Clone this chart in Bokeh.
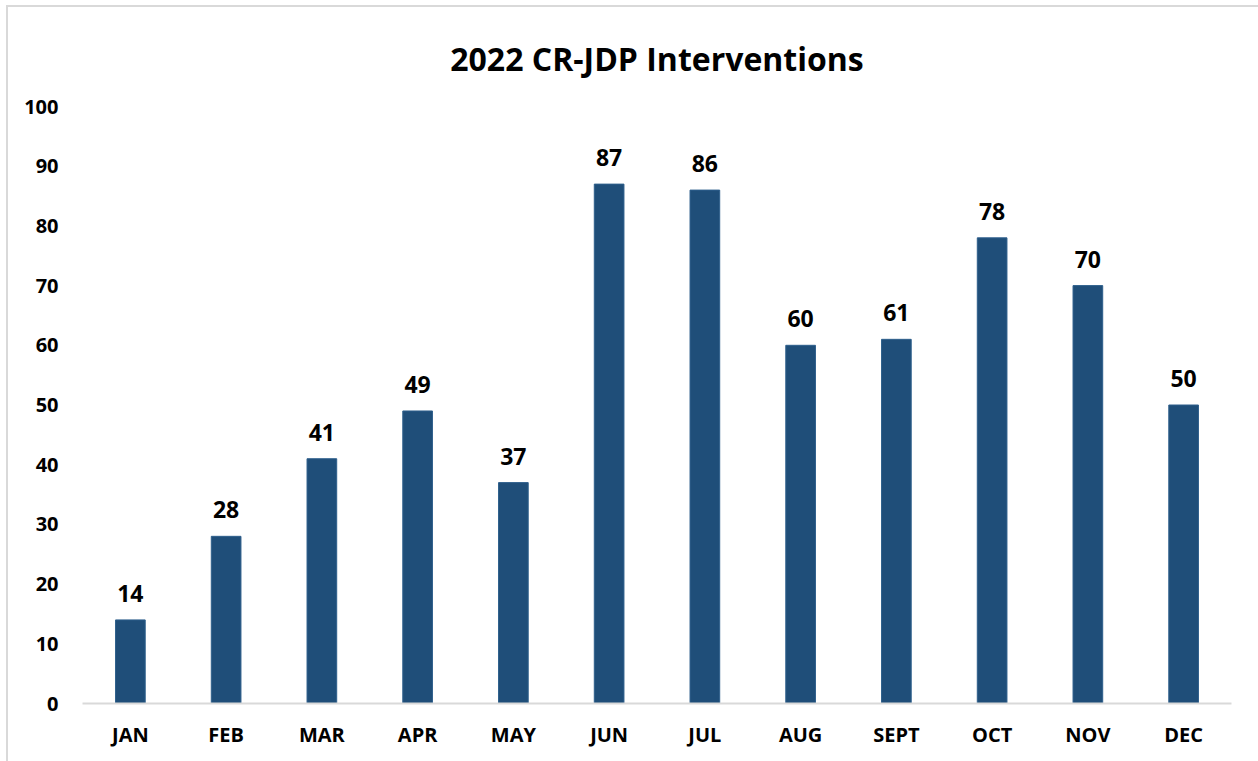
from bokeh.plotting import figure
from bokeh.models import ColumnDataSource, Range1d, FixedTicker, LabelSet
from bokeh.core.properties import value
from bokeh.embed import file_html
from bokeh.resources import INLINE

months = ["JAN", "FEB", "MAR", "APR", "MAY", "JUN", "JUL", "AUG", "SEPT", "OCT", "NOV", "DEC"]
interventions = [14, 28, 41, 49, 37, 87, 86, 60, 61, 78, 70, 50]
y_ticks = [0, 10, 20, 30, 40, 50, 60, 70, 80, 90, 100]

FONT = "Open Sans"
BAR = "#1F4E79"

src = ColumnDataSource(dict(m=months, v=interventions, lbl=[str(x) for x in interventions]))

p = figure(x_range=months, y_range=Range1d(0, 100), width=1256, height=759,
           output_backend="svg", toolbar_location=None,
           min_border_left=74, min_border_right=33, min_border_top=99, min_border_bottom=63)

p.title.text = "2022 CR-JDP Interventions"
p.title.text_font = FONT
p.title.text_font_size = "32px"
p.title.text_font_style = "bold"
p.title.align = "center"
p.title.text_color = "black"
p.title.offset = 0
p.title.standoff = 54

p.vbar(x="m", top="v", width=0.31, source=src, fill_color=BAR, line_color="#2E5F8C", line_width=1)

labels = LabelSet(x="m", y="v", text="lbl", source=src, text_align="center",
                  text_baseline="bottom", y_offset=18, text_font=value(FONT),
                  text_font_size=value("23px"), text_font_style="bold", text_color="black")
p.add_layout(labels)

p.xgrid.visible = False
p.ygrid.visible = False
p.outline_line_color = None

p.yaxis.ticker = FixedTicker(ticks=y_ticks)
p.yaxis.axis_line_color = None
p.yaxis.major_tick_line_color = None
p.yaxis.minor_tick_line_color = None
p.yaxis.major_label_standoff = 18
p.yaxis.major_label_text_font = FONT
p.yaxis.major_label_text_font_size = "20px"
p.yaxis.major_label_text_font_style = "bold"
p.yaxis.major_label_text_color = "black"

p.xaxis.axis_line_color = "#D9D9D9"
p.xaxis.axis_line_width = 2
p.xaxis.major_tick_line_color = None
p.xaxis.minor_tick_line_color = None
p.xaxis.major_label_standoff = 11
p.xaxis.major_label_text_font = FONT
p.xaxis.major_label_text_font_size = "20px"
p.xaxis.major_label_text_font_style = "bold"
p.xaxis.major_label_text_color = "black"

p.border_fill_color = "white"
p.styles = {"border-left": "2px solid #D9D9D9", "border-top": "2px solid #D9D9D9",
            "margin-left": "6px", "margin-top": "5px", "box-sizing": "border-box"}

open("out.html", "w").write(file_html(p, INLINE))
